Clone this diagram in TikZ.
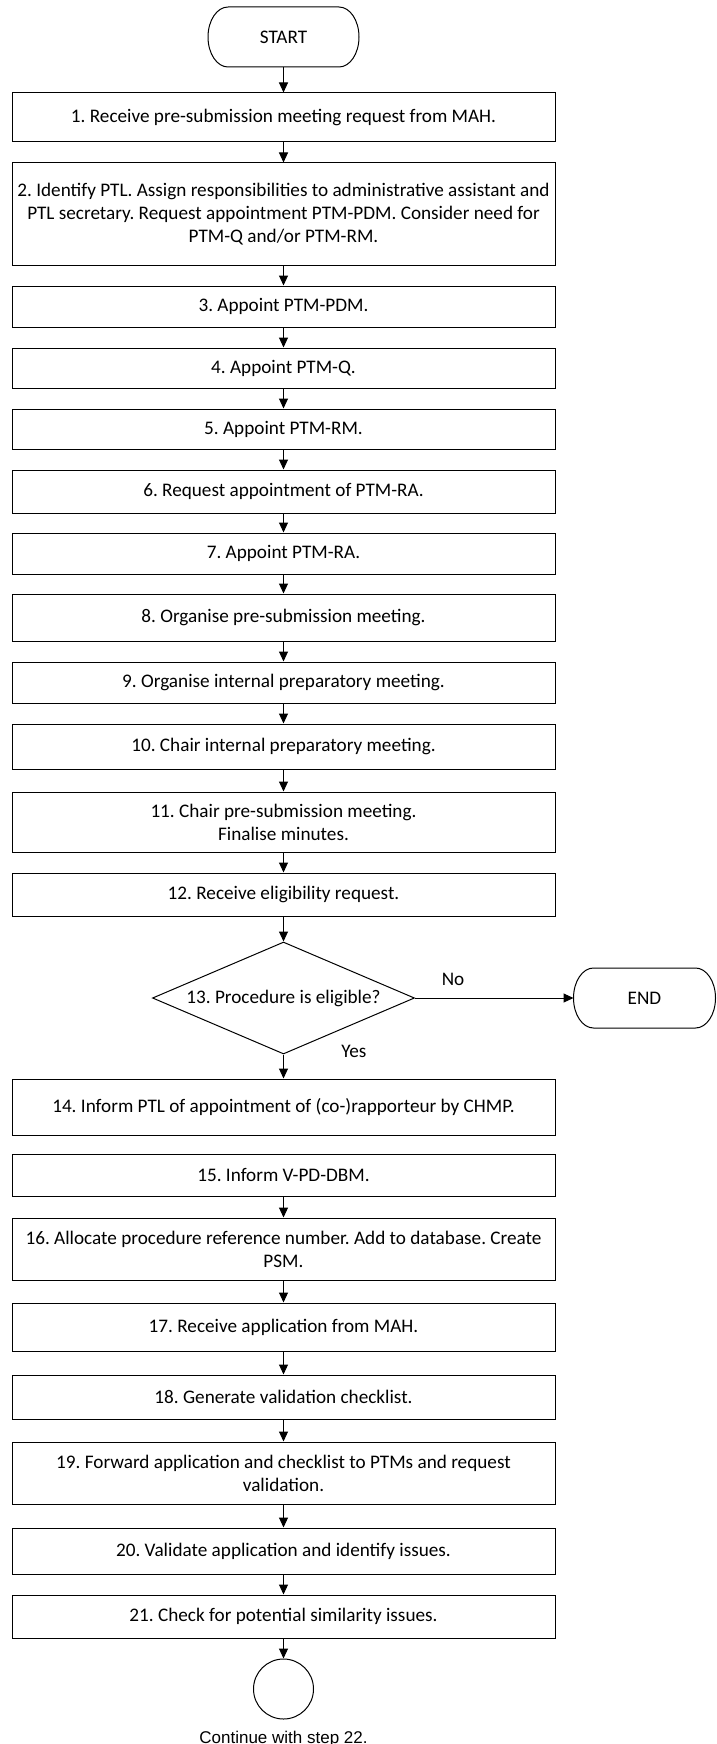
\documentclass[tikz,border=0pt]{standalone}
\usepackage{fontspec}
\setmainfont{Carlito}
\newfontfamily\arialfont{Liberation Sans}
\usetikzlibrary{arrows.meta,positioning,shapes.geometric}
\frenchspacing

\begin{document}
\begin{tikzpicture}[x=1pt,y=1pt,auto,line width=1pt,node distance=20pt,
    >={Triangle[length=10pt,width=9pt]},
    font=\fontsize{19.2}{23}\selectfont,
    box/.style={draw,rectangle,minimum width=543pt,align=center,inner sep=0pt},
    term/.style={minimum width=151pt,minimum height=60pt,outer sep=0pt},
    decision/.style={draw,diamond,aspect=2.34,minimum width=262pt,minimum height=112pt,inner sep=0pt}]
  \useasboundingbox (0,0) rectangle (716,-1744);

  \node (start) [term] at (283.5,-37)                        {START};
  \node (s1)  [box,minimum height=49pt,below=25.5pt of start] {1. Receive pre-submission meeting request from MAH.};
  \node (s2)  [box,minimum height=102pt,below=of s1]         {2. Identify PTL. Assign responsibilities to administrative assistant and\\
                                                               PTL secretary. Request appointment PTM-PDM. Consider need for\\
                                                               PTM-Q and/or PTM-RM.};
  \node (s3)  [box,minimum height=41pt,below=of s2]          {3. Appoint PTM-PDM.};
  \node (s4)  [box,minimum height=40pt,below=of s3]          {4. Appoint PTM-Q.};
  \node (s5)  [box,minimum height=40pt,below=of s4]          {5. Appoint PTM-RM.};
  \node (s6)  [box,minimum height=43pt,below=of s5]          {6. Request appointment of PTM-RA.};
  \node (s7)  [box,minimum height=41pt,below=19pt of s6]     {7. Appoint PTM-RA.};
  \node (s8)  [box,minimum height=47pt,below=19pt of s7]     {8. Organise pre-submission meeting.};
  \node (s9)  [box,minimum height=41pt,below=of s8]          {9. Organise internal preparatory meeting.};
  \node (s10) [box,minimum height=45pt,below=of s9]          {10. Chair internal preparatory meeting.};
  \node (s11) [box,minimum height=60pt,below=22pt of s10]    {11. Chair pre-submission meeting.\\Finalise minutes.};
  \node (s12) [box,minimum height=43pt,below=of s11]         {12. Receive eligibility request.};
  \node (s13) [decision,below=25pt of s12]                   {13. Procedure is eligible?};
  \node (end) [term,minimum width=142pt,right=158.5pt of s13] {END};
  \node (s14) [box,minimum height=56pt,below=24pt of s13]    {14. Inform PTL of appointment of (co-)rapporteur by CHMP.};
  \node (s15) [box,minimum height=42pt,below=18pt of s14]    {15. Inform V-PD-DBM.};
  \node (s16) [box,minimum height=62pt,below=21pt of s15]    {16. Allocate procedure reference number. Add to database. Create\\PSM.};
  \node (s17) [box,minimum height=48pt,below=22pt of s16]    {17. Receive application from MAH.};
  \node (s18) [box,minimum height=44pt,below=23pt of s17]    {18. Generate validation checklist.};
  \node (s19) [box,minimum height=62pt,below=22pt of s18]    {19. Forward application and checklist to PTMs and request\\validation.};
  \node (s20) [box,minimum height=46pt,below=23pt of s19]    {20. Validate application and identify issues.};
  \node (s21) [box,minimum height=43pt,below=of s20]         {21. Check for potential similarity issues.};
  \node (conn) [draw,circle,minimum size=60pt,inner sep=0pt,below=of s21] {};
  \node (cont) [below=11pt of conn,inner sep=0pt,font=\arialfont\fontsize{17}{20}\selectfont] {Continue with step 22.};

  % terminator outlines
  \foreach \t in {start,end}
    \draw ([xshift=20pt]\t.north west) -- ([xshift=-20pt]\t.north east)
          arc[start angle=90,end angle=-90,x radius=20pt,y radius=30pt]
          -- ([xshift=20pt]\t.south west)
          arc[start angle=270,end angle=90,x radius=20pt,y radius=30pt];

  \path[->] (start) edge (s1);
  \path[->] (s1)  edge (s2);
  \path[->] (s2)  edge (s3);
  \path[->] (s3)  edge (s4);
  \path[->] (s4)  edge (s5);
  \path[->] (s5)  edge (s6);
  \path[->] (s6)  edge (s7);
  \path[->] (s7)  edge (s8);
  \path[->] (s8)  edge (s9);
  \path[->] (s9)  edge (s10);
  \path[->] (s10) edge (s11);
  \path[->] (s11) edge (s12);
  \path[->] (s12) edge (s13);
  \path[->] (s13) edge node[pos=0.24,above=9pt] {No} (end)
                  edge node[pos=0,right=54pt,yshift=3pt] {Yes} (s14);
  \path[->] (s15) edge (s16);
  \path[->] (s16) edge (s17);
  \path[->] (s17) edge (s18);
  \path[->] (s18) edge (s19);
  \path[->] (s19) edge (s20);
  \path[->] (s20) edge (s21);
  \path[->] (s21) edge (conn);
\end{tikzpicture}
\end{document}
